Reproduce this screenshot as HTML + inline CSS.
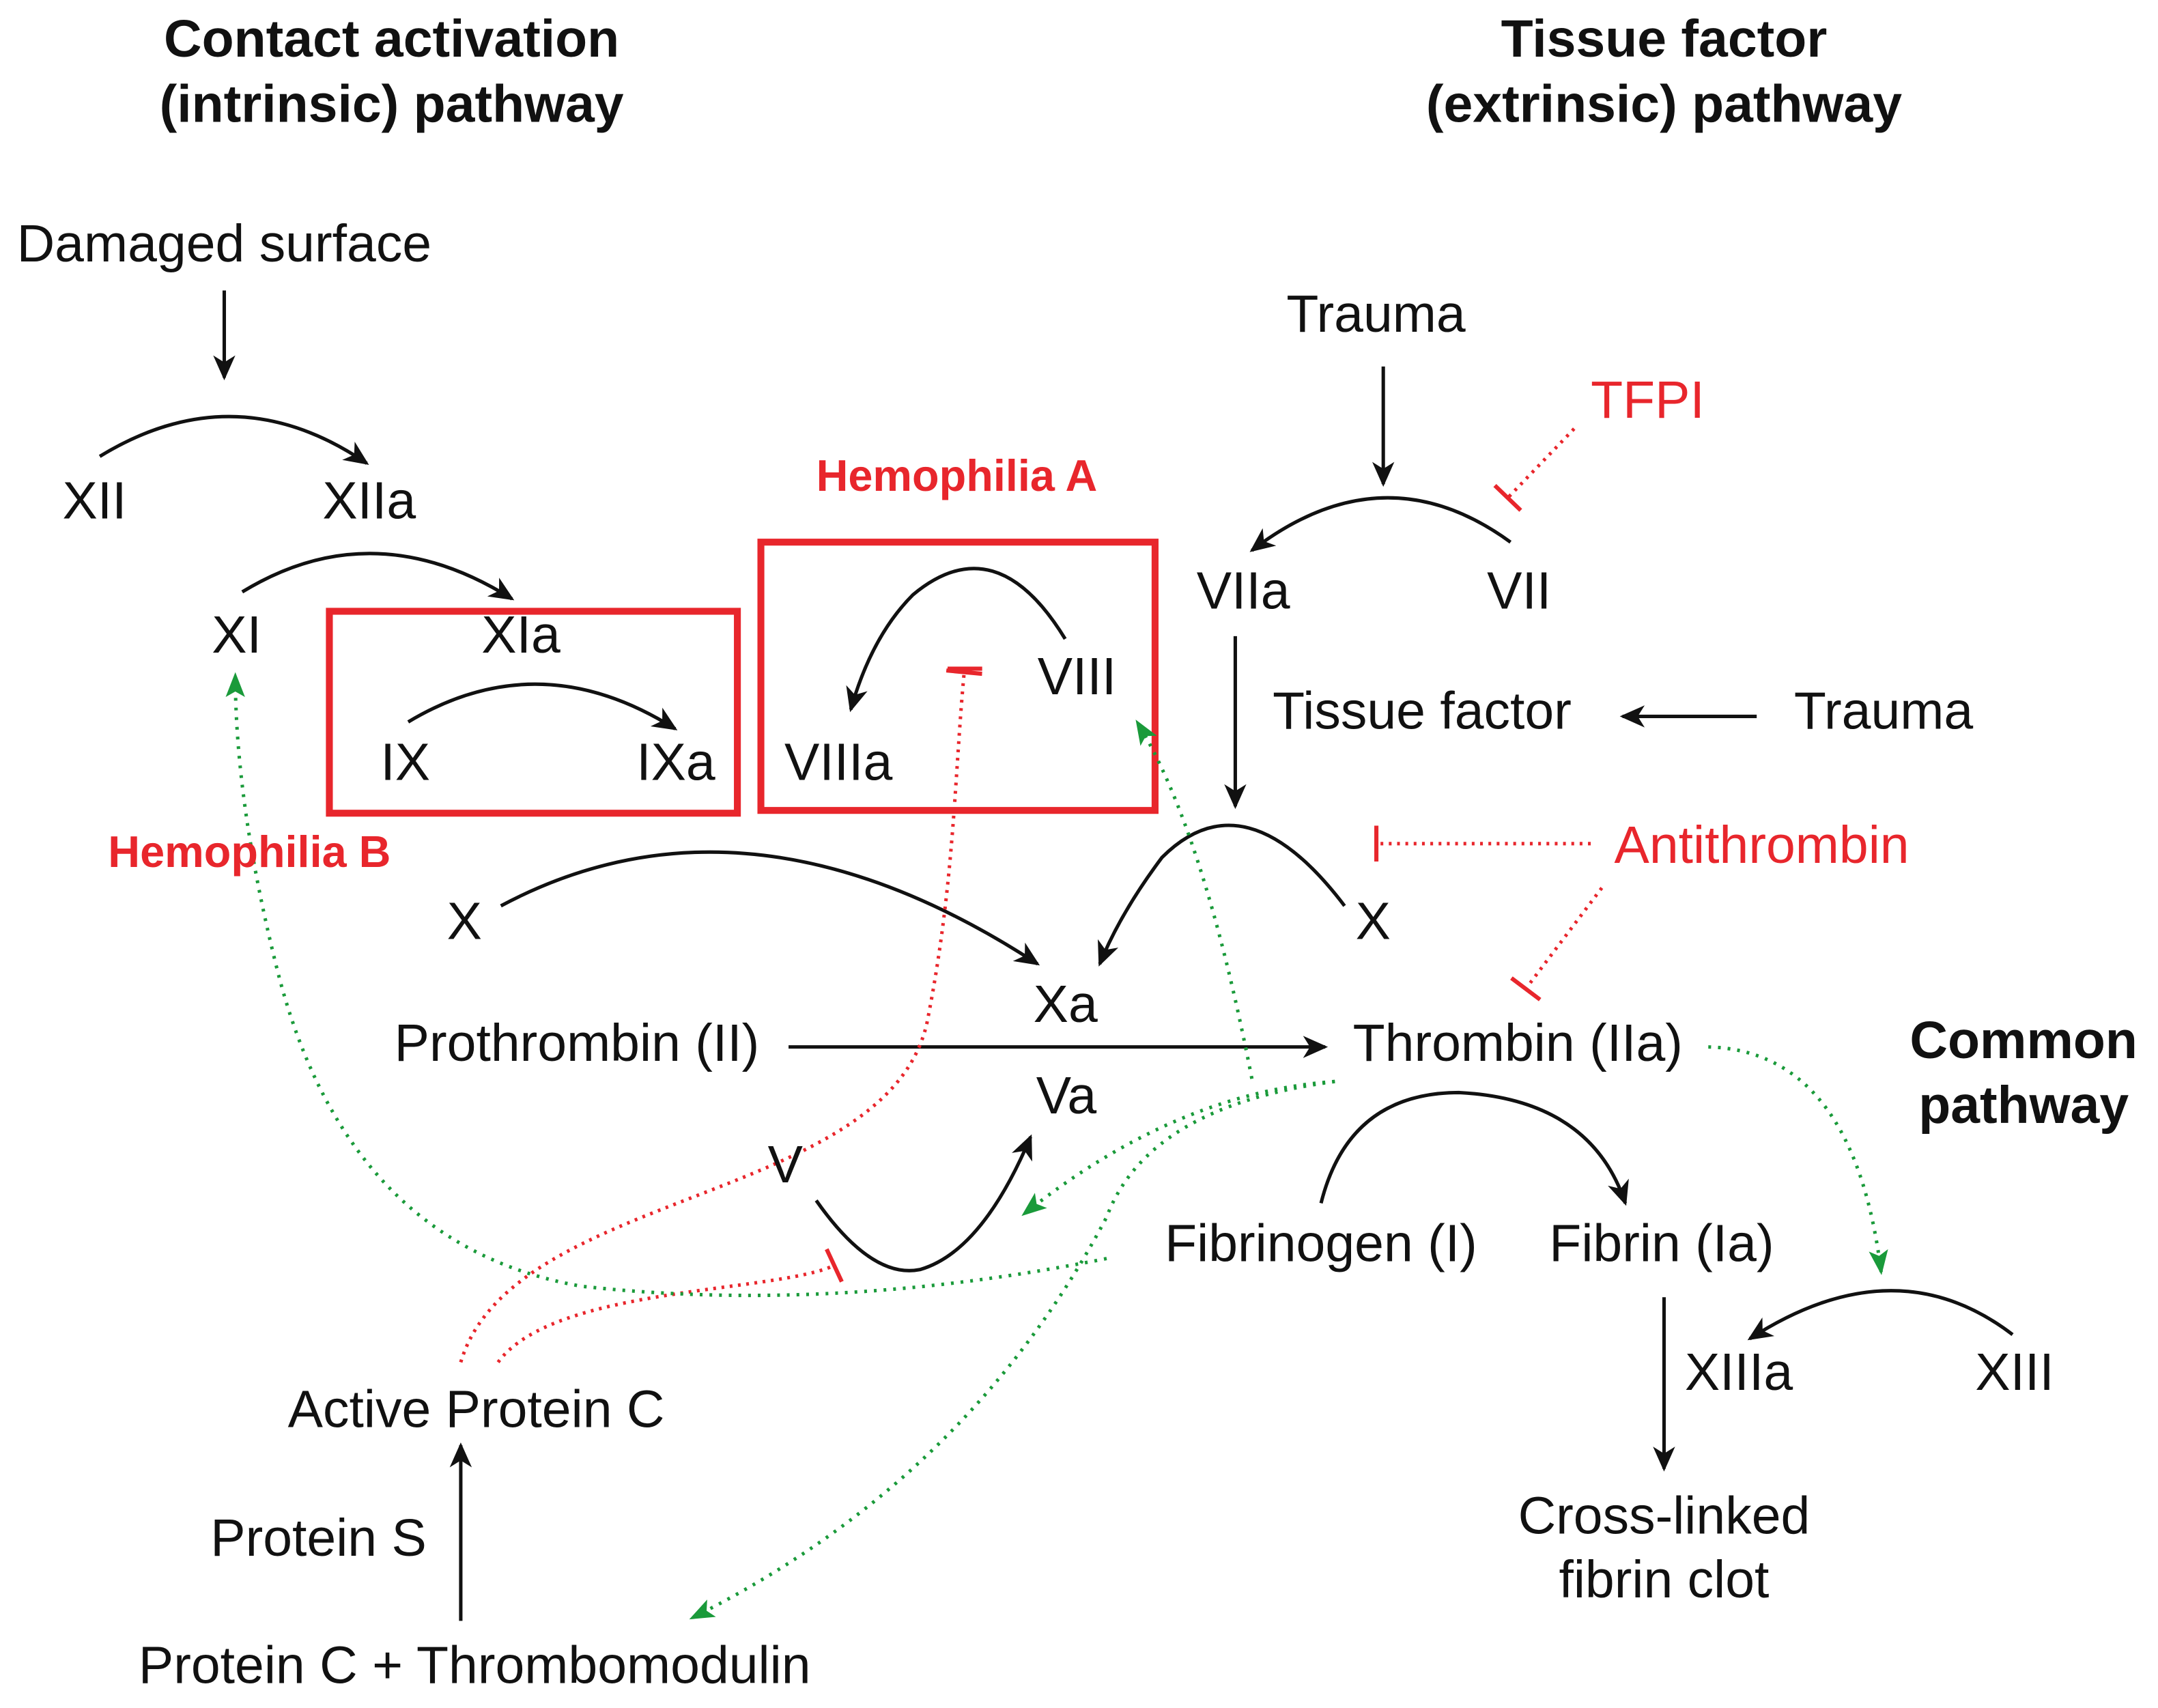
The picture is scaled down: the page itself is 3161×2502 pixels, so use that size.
<!DOCTYPE html>
<html><head><meta charset="utf-8"><style>
html,body{margin:0;padding:0;background:#fff;}
svg{display:block;}
text{font-family:"Liberation Sans",Arial,sans-serif;font-size:38px;fill:#111;}
.b{font-weight:bold;}
.r{fill:#e8262c;}
</style></head><body>
<svg width="3161" height="2502" viewBox="0 0 1560 1235" xmlns="http://www.w3.org/2000/svg">
<defs>
<marker id="ak2" markerWidth="20" markerHeight="20" refX="16" refY="10" orient="auto" markerUnits="userSpaceOnUse"><path d="M0,2 L18,10 L0,18 L5,10z" fill="#111"/></marker>
<marker id="ag" markerWidth="20" markerHeight="20" refX="16" refY="10" orient="auto" markerUnits="userSpaceOnUse"><path d="M0,3 L18,10 L0,17 L4,10z" fill="#1a9a3a"/></marker>
<marker id="tr" markerWidth="6" markerHeight="26" refX="3" refY="13" orient="auto" markerUnits="userSpaceOnUse"><path d="M3,0 L3,26" stroke="#e8262c" stroke-width="3"/></marker>
</defs>
<g fill="none" stroke="#111" stroke-width="2.5">
<path d="M162,210 L162,273" marker-end="url(#ak2)"/>
<path d="M72,330 Q170,270 265,335" marker-end="url(#ak2)"/>
<path d="M175,428 Q270,370 370,433" marker-end="url(#ak2)"/>
<path d="M295,522 Q390,465 488,527" marker-end="url(#ak2)"/>
<path d="M770,462 Q720,380 660,430 Q630,460 615,513" marker-end="url(#ak2)"/>
<path d="M362,655 Q540,560 750,697" marker-end="url(#ak2)"/>
<path d="M570,757 L958,757" marker-end="url(#ak2)"/>
<path d="M590,868 Q630,925 665,918 Q710,905 745,822" marker-end="url(#ak2)"/>
<path d="M1000,265 L1000,350" marker-end="url(#ak2)"/>
<path d="M1092,392 Q1000,325 905,398" marker-end="url(#ak2)"/>
<path d="M893,460 L893,583" marker-end="url(#ak2)"/>
<path d="M1270,518 L1173,518" marker-end="url(#ak2)"/>
<path d="M972,655 Q900,560 840,620 Q810,660 795,697" marker-end="url(#ak2)"/>
<path d="M955,870 Q975,790 1055,790 Q1150,795 1175,870" marker-end="url(#ak2)"/>
<path d="M1455,965 Q1370,900 1265,968" marker-end="url(#ak2)"/>
<path d="M1203,938 L1203,1062" marker-end="url(#ak2)"/>
<path d="M333,1172 L333,1045" marker-end="url(#ak2)"/>
</g>
<g fill="none" stroke="#e8262c" stroke-width="5">
<rect x="238" y="442" width="295" height="146"/>
<rect x="550" y="392" width="285" height="194"/>
</g>
<g fill="none" stroke="#e8262c" stroke-width="2.5" stroke-dasharray="2,4">
<path d="M1138,310 L1090,360" marker-end="url(#tr)"/>
<path d="M1150,610 L995,610" marker-end="url(#tr)"/>
<path d="M1158,642 L1103,715" marker-end="url(#tr)"/>
<path d="M333,985 C370,860 640,870 670,740 C690,640 690,560 697,486" marker-end="url(#tr)"/>
<path d="M360,985 C400,930 560,935 603,915" marker-end="url(#tr)"/>
</g>
<g fill="none" stroke="#1a9a3a" stroke-width="2.5" stroke-dasharray="2,5">
<path d="M1235,757 Q1340,760 1360,920" marker-end="url(#ag)"/>
<path d="M965,782 Q850,790 740,878" marker-end="url(#ag)"/>
<path d="M965,782 Q830,800 800,880 Q700,1070 500,1170" marker-end="url(#ag)"/>
<path d="M905,780 Q870,600 822,522" marker-end="url(#ag)"/>
<path d="M800,910 Q600,950 420,930 Q250,900 200,700 Q170,580 170,488" marker-end="url(#ag)"/>
</g>
<g fill="#e8262c"><rect x="685" y="482" width="25" height="3"/></g>
<g transform="translate(0,-3)">
<text class="b" x="283" y="44" text-anchor="middle">Contact activation</text>
<text class="b" x="283" y="91" text-anchor="middle">(intrinsic) pathway</text>
<text class="b" x="1203" y="44" text-anchor="middle">Tissue factor</text>
<text class="b" x="1203" y="91" text-anchor="middle">(extrinsic) pathway</text>
<text class="b" x="1463" y="768" text-anchor="middle">Common</text>
<text class="b" x="1463" y="815" text-anchor="middle">pathway</text>
<text x="12" y="192">Damaged surface</text>
<text x="45" y="378">XII</text><text x="233" y="378">XIIa</text>
<text x="153" y="475">XI</text><text x="348" y="475">XIa</text>
<text x="275" y="567">IX</text><text x="460" y="567">IXa</text>
<text class="b r" x="78" y="630" style="font-size:32px">Hemophilia B</text>
<text class="b r" x="590" y="358" style="font-size:32px">Hemophilia A</text>
<text x="750" y="505">VIII</text><text x="567" y="567">VIIIa</text>
<text x="323" y="682">X</text><text x="980" y="682">X</text>
<text x="747" y="742">Xa</text>
<text x="285" y="770">Prothrombin (II)</text>
<text x="978" y="770">Thrombin (IIa)</text>
<text x="749" y="808">Va</text><text x="555" y="858">V</text>
<text x="930" y="243">Trauma</text>
<text class="r" x="1150" y="305">TFPI</text>
<text x="865" y="443">VIIa</text><text x="1075" y="443">VII</text>
<text x="920" y="530">Tissue factor</text><text x="1297" y="530">Trauma</text>
<text class="r" x="1167" y="627">Antithrombin</text>
<text x="842" y="915">Fibrinogen (I)</text><text x="1120" y="915">Fibrin (Ia)</text>
<text x="1218" y="1008">XIIIa</text><text x="1428" y="1008">XIII</text>
<text x="1203" y="1112" text-anchor="middle">Cross-linked</text>
<text x="1203" y="1158" text-anchor="middle">fibrin clot</text>
<text x="208" y="1035">Active Protein C</text>
<text x="152" y="1128">Protein S</text>
<text x="100" y="1220">Protein C + Thrombomodulin</text>
</g>
</svg>
</body></html>
